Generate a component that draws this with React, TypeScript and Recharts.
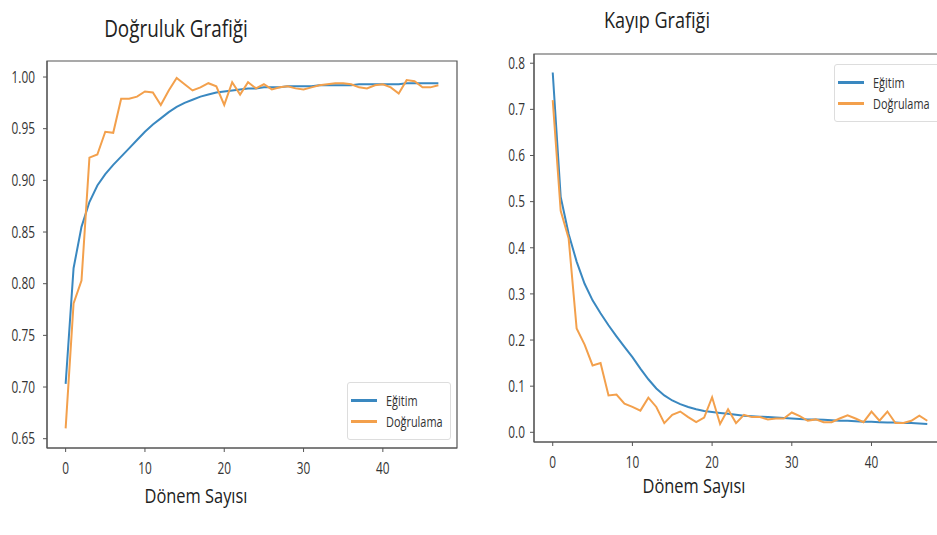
import React from "react";
import { LineChart, Line, XAxis, YAxis, ReferenceArea } from "recharts";

// epochs 0..47
const epochs = Array.from({ length: 48 }, (_, i) => i);

const trainAcc = [
  0.703, 0.815, 0.855, 0.879, 0.895, 0.906, 0.915, 0.923, 0.931, 0.939,
  0.947, 0.954, 0.96, 0.966, 0.971, 0.975, 0.978, 0.981, 0.983, 0.985,
  0.986, 0.987, 0.988, 0.989, 0.989, 0.99, 0.99, 0.99, 0.991, 0.991,
  0.991, 0.991, 0.992, 0.992, 0.992, 0.992, 0.992, 0.993, 0.993, 0.993,
  0.993, 0.993, 0.993, 0.994, 0.994, 0.994, 0.994, 0.994,
];
const valAcc = [
  0.66, 0.781, 0.803, 0.922, 0.925, 0.947, 0.946, 0.979, 0.979, 0.981,
  0.986, 0.985, 0.973, 0.987, 0.999, 0.993, 0.987, 0.99, 0.994, 0.991,
  0.973, 0.995, 0.983, 0.995, 0.989, 0.993, 0.988, 0.99, 0.991, 0.989,
  0.988, 0.99, 0.992, 0.993, 0.994, 0.994, 0.993, 0.99, 0.989, 0.992,
  0.993, 0.99, 0.984, 0.997, 0.996, 0.99, 0.99, 0.992,
];
const trainLoss = [
  0.78, 0.51, 0.43, 0.37, 0.322, 0.286, 0.258, 0.232, 0.208, 0.185,
  0.163, 0.138, 0.115, 0.095, 0.08, 0.069, 0.061, 0.055, 0.05, 0.046,
  0.044, 0.042, 0.04, 0.038, 0.036, 0.035, 0.034, 0.033, 0.032, 0.031,
  0.03, 0.029, 0.028, 0.028, 0.027, 0.026, 0.025, 0.025, 0.024, 0.023,
  0.023, 0.022, 0.021, 0.021, 0.02, 0.02, 0.019, 0.018,
];
const valLoss = [
  0.72, 0.48, 0.42, 0.225, 0.19, 0.145, 0.15, 0.08, 0.082, 0.062,
  0.055, 0.047, 0.075, 0.055, 0.02, 0.038, 0.045, 0.033, 0.022, 0.032,
  0.076, 0.018, 0.05, 0.02, 0.038, 0.033, 0.033, 0.028, 0.03, 0.03,
  0.043, 0.035, 0.025, 0.028, 0.022, 0.022, 0.03, 0.037, 0.03, 0.022,
  0.045, 0.025, 0.045, 0.02, 0.02, 0.025, 0.036, 0.025,
];

const xTicks = [0, 10, 20, 30, 40];
const accTicks = [0.65, 0.7, 0.75, 0.8, 0.85, 0.9, 0.95, 1.0];
const lossTicks = [0, 0.1, 0.2, 0.3, 0.4, 0.5, 0.6, 0.7, 0.8];
const seriesNames = ["Eğitim", "Doğrulama"];

const BLUE = "#3a88c0";
const ORANGE = "#f3a04c";
const FRAME = "#555";
const FONT = "'Open Sans', 'Noto Sans', sans-serif";

const accData = epochs.map((e, i) => ({ e, train: trainAcc[i], val: valAcc[i] }));
const lossData = epochs.map((e, i) => ({ e, train: trainLoss[i], val: valLoss[i] }));

// the source image is squeezed horizontally, so text is narrowed with scaleX
const makeTick = (anchor: "end" | "middle", dy: string, digits: number) => (props: any) => {
  const { x, y, payload } = props;
  return (
    <g transform={`translate(${x},${y}) scale(0.74,1)`}>
      <text textAnchor={anchor} dy={dy} fill="#333" fontSize={16} fontFamily={FONT}>
        {digits >= 0 ? Number(payload.value).toFixed(digits) : payload.value}
      </text>
    </g>
  );
};

function LegendBox({ style }: { style: React.CSSProperties }) {
  const colors = [BLUE, ORANGE];
  return (
    <div
      style={{
        position: "absolute",
        background: "rgba(255,255,255,0.9)",
        border: "1px solid #ddd",
        borderRadius: 3,
        padding: "7px 0 7px 3px",
        fontFamily: FONT,
        fontSize: 14,
        color: "#333",
        boxSizing: "border-box",
        overflow: "hidden",
        ...style,
      }}
    >
      {seriesNames.map((n, i) => (
        <div key={n} style={{ display: "flex", alignItems: "center", height: 21, whiteSpace: "nowrap" }}>
          <span style={{ display: "inline-block", flexShrink: 0, width: 26, height: 2.5, background: colors[i], marginRight: 9 }} />
          <span style={{ display: "inline-block", flexShrink: 0, transform: "scaleX(0.78)", transformOrigin: "left center" }}>{n}</span>
        </div>
      ))}
    </div>
  );
}

const textStyle = (left: number, top: number, size: number): React.CSSProperties => ({
  position: "absolute",
  left,
  top,
  transform: "translate(-50%, -50%) scaleX(0.82)",
  fontFamily: FONT,
  fontSize: size,
  color: "#222",
  whiteSpace: "nowrap",
});

export default function App() {
  return (
    <div style={{ position: "absolute", left: 0, top: 0, width: 937, height: 535, background: "#fff", overflow: "hidden" }}>
      <div style={textStyle(176, 28, 23)}>Doğruluk Grafiği</div>
      <div style={textStyle(657, 19, 22)}>Kayıp Grafiği</div>
      <div style={textStyle(196, 495, 20)}>Dönem Sayısı</div>
      <div style={textStyle(694, 485, 20)}>Dönem Sayısı</div>

      <div style={{ position: "absolute", left: 0, top: 0 }}>
        <LineChart width={470} height={535} data={accData} margin={{ top: 61, right: 13, bottom: 57, left: 0 }}>
          <XAxis
            dataKey="e"
            type="number"
            domain={[-2.35, 49.35]}
            ticks={xTicks}
            allowDataOverflow
            height={30}
            tick={makeTick("middle", "0.71em", -1)}
            tickSize={4}
            tickMargin={11}
            stroke={FRAME}
          />
          <YAxis
            type="number"
            domain={[0.641, 1.0155]}
            ticks={accTicks}
            allowDataOverflow
            width={47}
            tick={makeTick("end", "0.36em", 2)}
            tickSize={4}
            tickMargin={8}
            stroke={FRAME}
          />
          <ReferenceArea x1={-2.35} x2={49.35} y1={0.641} y2={1.0155} fill="none" stroke={FRAME} strokeWidth={1.2} ifOverflow="visible" />
          <Line dataKey="train" stroke={BLUE} strokeWidth={2} dot={false} isAnimationActive={false} />
          <Line dataKey="val" stroke={ORANGE} strokeWidth={2} dot={false} isAnimationActive={false} />
        </LineChart>
      </div>
      <LegendBox style={{ left: 347, top: 382, width: 104, height: 58 }} />

      <div style={{ position: "absolute", left: 480, top: 0, width: 457, height: 535, overflow: "hidden" }}>
        <LineChart width={480} height={535} data={lossData} margin={{ top: 54, right: 14, bottom: 63, left: 0 }}>
          <XAxis
            dataKey="e"
            type="number"
            domain={[-2.35, 49.35]}
            ticks={xTicks}
            allowDataOverflow
            height={30}
            tick={makeTick("middle", "0.71em", -1)}
            tickSize={4}
            tickMargin={11}
            stroke={FRAME}
          />
          <YAxis
            type="number"
            domain={[-0.021, 0.82]}
            ticks={lossTicks}
            allowDataOverflow
            width={54}
            tick={makeTick("end", "0.36em", 1)}
            tickSize={4}
            tickMargin={5}
            stroke={FRAME}
          />
          <ReferenceArea x1={-2.35} x2={49.35} y1={-0.021} y2={0.82} fill="none" stroke={FRAME} strokeWidth={1.2} ifOverflow="visible" />
          <Line dataKey="train" stroke={BLUE} strokeWidth={2} dot={false} isAnimationActive={false} />
          <Line dataKey="val" stroke={ORANGE} strokeWidth={2} dot={false} isAnimationActive={false} />
        </LineChart>
        <LegendBox style={{ left: 354, top: 64, width: 120, height: 58 }} />
      </div>
    </div>
  );
}
